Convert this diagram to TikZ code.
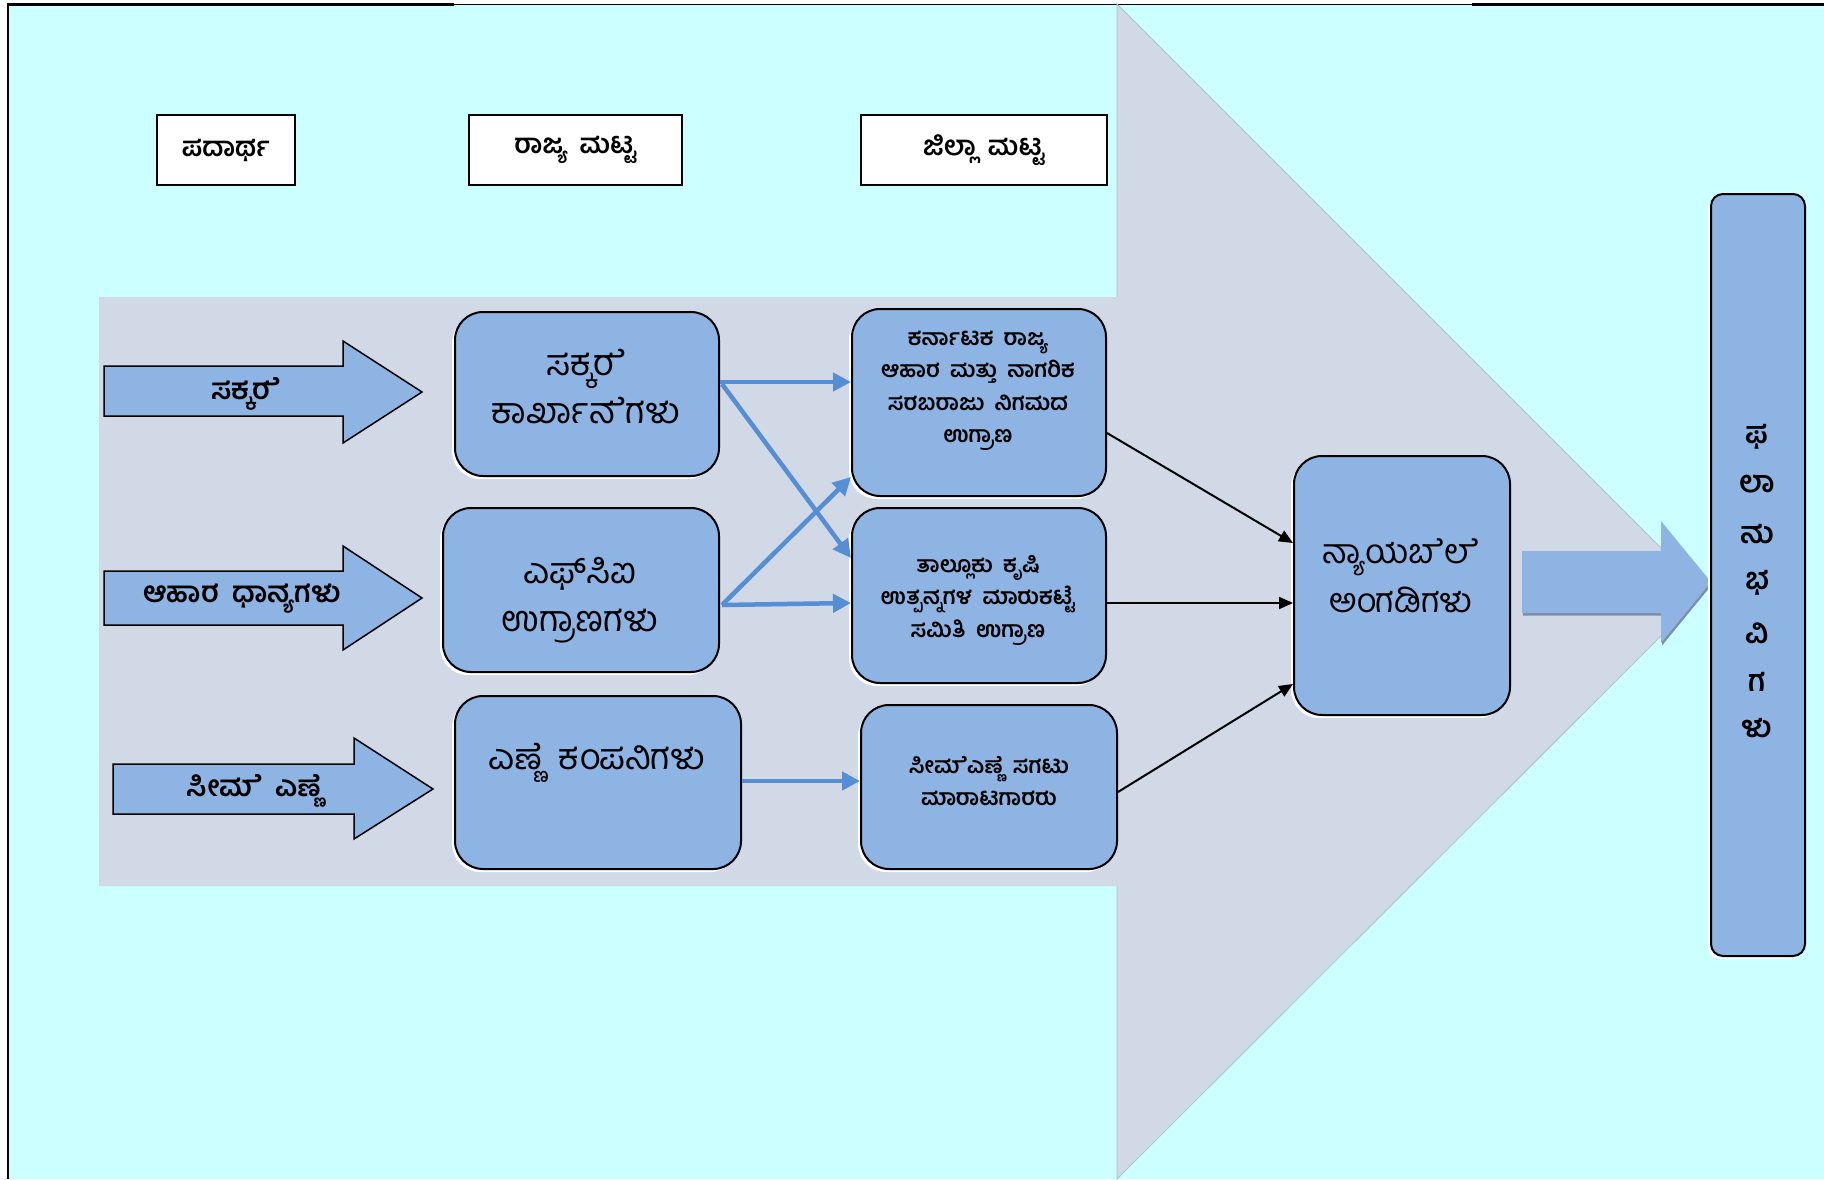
\documentclass[tikz,border=0pt]{standalone}
\usepackage{fontspec}
\newfontfamily\kn[Script=Kannada]{Hind Mysuru}
\usetikzlibrary{arrows.meta,calc,shadows}
\definecolor{bgcyan}{HTML}{CCFFFF}
\definecolor{bandgray}{HTML}{D1D9E7}
\definecolor{bandedge}{HTML}{A9C3CF}
\definecolor{boxblue}{HTML}{8EB4E3}
\definecolor{linkblue}{HTML}{558ED5}
\definecolor{arrowshade}{HTML}{7D8DAA}
\newcommand\ksp{\hspace{0.45em}}
\begin{document}
\begin{tikzpicture}[x=1pt,y=-1pt,
  hdr/.style={draw=black,line width=2pt,fill=white,inner sep=0pt,
    font=\kn\bfseries\fontsize{27}{30}\selectfont},
  blockarrow/.style={draw=black,line width=1.5pt,fill=boxblue,line join=miter},
  arrowtext/.style={font=\kn\bfseries\fontsize{29}{32}\selectfont,inner sep=0pt},
  rbox/.style={draw=black,line width=2pt,fill=boxblue,rounded corners=28pt,inner sep=0pt,
    drop shadow={shadow xshift=-3pt,shadow yshift=-3pt,fill=white,opacity=1}},
  bigtext/.style={font=\kn\fontsize{36}{48}\selectfont,align=center,inner sep=0pt},
  smalltext/.style={font=\kn\bfseries\fontsize{22.5}{32.5}\selectfont,align=center,inner sep=0pt},
  blink/.style={draw=linkblue,line width=4.5pt,-{Triangle[length=18pt,width=18pt]}},
  klink/.style={draw=black,line width=2pt,-{Triangle[length=14pt,width=12pt]}},
  vchar/.style={font=\kn\bfseries\fontsize{30}{32}\selectfont,inner sep=0pt}
]
\useasboundingbox (0,0) rectangle (1824,1179);
\fill[white] (0,0) rectangle (1824,1179);
\fill[bgcyan] (8,4) rectangle (1824,1179);
\draw[black,line width=1pt] (8,4) -- (1824,4);
\draw[black,line width=3pt] (8,4) -- (454,4);
\draw[black,line width=3pt] (1472,4) -- (1824,4);
\draw[black,line width=2pt] (8,3) -- (8,1179);

% big background arrow
\fill[bandgray] (99,297) -- (1117,297) -- (1117,4) -- (1705,592) -- (1117,1179) -- (1117,886) -- (99,886) -- cycle;
\draw[bandedge,line width=0.8pt] (1117,297) -- (1117,4) -- (1705,592) -- (1117,1179) -- (1117,886);

% header boxes
\node[hdr,minimum width=138pt,minimum height=70pt] (h1) at (226,150) {ಪದಾರ್ಥ};
\node[hdr,minimum width=213pt,minimum height=70pt] (h2) at (575.5,150) {ರಾಜ್ಯ\ksp ಮಟ್ಟ};
\node[hdr,minimum width=246pt,minimum height=70pt] (h3) at (984,150) {ಜಿಲ್ಲಾ\ksp ಮಟ್ಟ};

% block arrows
\draw[blockarrow] (104,366) -- (343,366) -- (343,341) -- (422,392) -- (343,443) -- (343,416) -- (104,416) -- cycle;
\node[arrowtext] (a1) at (246,394) {ಸಕ್ಕರ^^^^200dೆ};
\draw[blockarrow] (104,571) -- (343,571) -- (343,546) -- (422,598) -- (343,650) -- (343,625) -- (104,625) -- cycle;
\node[arrowtext] (a2) at (242,599) {ಆಹಾರ\ksp ಧಾನ್ಯಗಳು};
\draw[blockarrow] (113,764) -- (354,764) -- (354,738) -- (433,789) -- (354,839) -- (354,814) -- (113,814) -- cycle;
\node[arrowtext] (a3) at (254,791) {ಸೀಮ^^^^200dೆ\ksp ಎಣ್ಣ^^^^200dೆ};

% state level boxes
\node[rbox,minimum width=264pt,minimum height=164pt] (b1) at (587,394) {};
\node[bigtext] (b1t) at (586,387) {ಸಕ್ಕರ^^^^200dೆ\\ಕಾರ್ಖಾನ^^^^200dೆಗಳು};
\node[rbox,minimum width=276pt,minimum height=164pt] (b2) at (581,590) {};
\node[bigtext] (b2t) at (580,600) {ಎಫ್‌ಸಿಐ\\ಉಗ್ರಾಣಗಳು};
\node[rbox,minimum width=286pt,minimum height=173pt] (b3) at (598,782.5) {};
\node[bigtext] (b3t) at (597,763) {ಎಣ್ಣ^^^^200dೆ\ksp ಕಂಪನಿಗಳು};

% district level boxes
\node[rbox,minimum width=254pt,minimum height=187pt] (c1) at (979,402.5) {};
\node[smalltext] (c1t) at (978,391) {ಕರ್ನಾಟಕ\ksp ರಾಜ್ಯ\\ಆಹಾರ\ksp ಮತ್ತು\ksp ನಾಗರಿಕ\\ಸರಬರಾಜು\ksp ನಿಗಮದ\\ಉಗ್ರಾಣ};
\node[rbox,minimum width=254pt,minimum height=175pt] (c2) at (979,595.5) {};
\node[smalltext] (c2t) at (978,600) {ತಾಲ್ಲೂಕು\ksp ಕೃಷಿ\\ಉತ್ಪನ್ನಗಳ\ksp ಮಾರುಕಟ್ಟೆ\\ಸಮಿತಿ\ksp ಉಗ್ರಾಣ};
\node[rbox,minimum width=256pt,minimum height=164pt] (c3) at (989,787) {};
\node[smalltext] (c3t) at (989,781) {ಸೀಮ^^^^200dೆಎಣ್ಣ^^^^200dೆ\ksp ಸಗಟು\\ಮಾರಾಟಗಾರರು};

% fair price shops
\node[rbox,minimum width=216pt,minimum height=259pt] (d) at (1402,585.5) {};
\node[bigtext,font=\kn\fontsize{34}{49}\selectfont] (dt) at (1401,576) {ನ್ಯಾಯಬ^^^^200dೆಲ^^^^200dೆ\\ಅಂಗಡಿಗಳು};

% blue connectors
\draw[blink] ($(b1.east)+(0,-12)$) -- ($(c1.west)+(0,-20.5)$);
\draw[blink] ($(b1.east)+(2,-10)$) -- ($(c2.west)+(0,-37.5)$);
\draw[blink] ($(b2.east)+(2,15)$) -- ($(c1.west)+(0,74.5)$);
\draw[blink] ($(b2.east)+(2,15)$) -- ($(c2.west)+(0,7.5)$);
\draw[blink] ($(b3.east)+(0,-1.5)$) -- ($(c3.west)+(0,-6)$);

% black connectors
\draw[klink] ($(c1.east)+(0,30.5)$) -- ($(d.west)+(0,-42.5)$);
\draw[klink] ($(c2.east)+(0,7.5)$) -- ($(d.west)+(0,17.5)$);
\draw[klink] ($(c3.east)+(0,5)$) -- ($(d.west)+(0,98.5)$);

% arrow from shops to beneficiaries
\fill[arrowshade] (1523,553.5) -- (1662,553.5) -- (1662,523.5) -- (1712,584.5) -- (1662,645.5) -- (1662,615.5) -- (1523,615.5) -- cycle;
\fill[boxblue] (1522,551) -- (1661,551) -- (1661,521) -- (1711,582) -- (1661,643) -- (1661,613) -- (1522,613) -- cycle;

% beneficiaries
\node[draw=black,line width=2pt,fill=boxblue,rounded corners=12pt,minimum width=94pt,minimum height=762pt,
  drop shadow={shadow xshift=-3pt,shadow yshift=-3pt,fill=white,opacity=1}] (e) at (1758,575) {};
\node[vchar] (e1) at (1757,437) {ಫ};
\node[vchar] (e2) at (1757,484) {ಲಾ};
\node[vchar] (e3) at (1757,534) {ನು};
\node[vchar] (e4) at (1757,583) {ಭ};
\node[vchar] (e5) at (1757,633) {ವಿ};
\node[vchar] (e6) at (1757,682) {ಗ};
\node[vchar] (e7) at (1757,728) {ಳು};
\end{tikzpicture}
\end{document}
